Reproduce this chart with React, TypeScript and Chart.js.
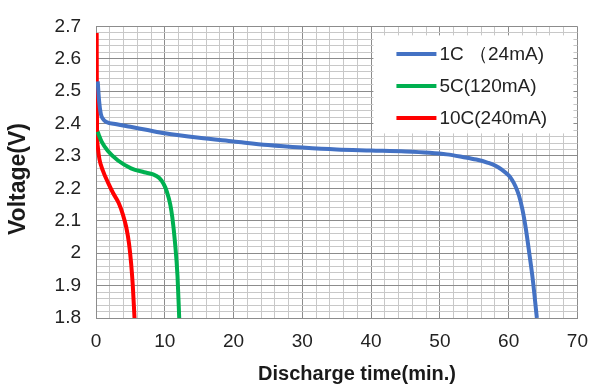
import React, { useEffect, useRef } from 'react';
import { Chart, registerables } from 'chart.js';

Chart.register(...registerables);

const seriesLabels = ['1C （24mA)', '5C(120mA)', '10C(240mA)'];
const seriesColors = ['#4472C4', '#00B050', '#FF0000'];

const blueTime = [0.25, 0.45, 0.7, 1.0, 1.5, 3, 5, 7.5, 10, 15, 20, 25, 30, 35, 40, 45, 48.5, 51, 53.3, 55.3, 57, 58.1, 59, 60, 60.5, 61.0, 61.5, 62.0, 62.5, 63.0, 63.5, 64.1];
const blueVolt = [2.53, 2.47, 2.43, 2.415, 2.405, 2.398, 2.39, 2.38, 2.37, 2.356, 2.345, 2.334, 2.326, 2.32, 2.317, 2.314, 2.31, 2.305, 2.297, 2.289, 2.279, 2.27, 2.258, 2.24, 2.226, 2.206, 2.178, 2.135, 2.075, 2.0, 1.92, 1.8];

const greenTime = [0.25, 0.5, 0.8, 1.7, 3.2, 5.1, 7.0, 8.3, 9.2, 9.8, 10.3, 10.8, 11.1, 11.5, 11.85, 12.1];
const greenVolt = [2.375, 2.36, 2.345, 2.316, 2.286, 2.262, 2.25, 2.243, 2.232, 2.215, 2.19, 2.15, 2.11, 2.03, 1.93, 1.8];

const redTime = [0.1, 0.12, 0.15, 0.25, 0.5, 1.0, 1.7, 2.5, 3.3, 3.9, 4.4, 4.8, 5.1, 5.35, 5.6];
const redVolt = [2.68, 2.5, 2.38, 2.33, 2.29, 2.255, 2.22, 2.185, 2.155, 2.12, 2.08, 2.03, 1.97, 1.9, 1.8];

const xTickLabels = ['0', '10', '20', '30', '40', '50', '60', '70'];
const yTickLabels = ['1.8', '1.9', '2', '2.1', '2.2', '2.3', '2.4', '2.5', '2.6', '2.7'];
const xTitle = 'Discharge time(min.)';
const yTitle = 'Voltage(V)';

const FONT = '"Liberation Sans", Arial, sans-serif';
const MAJOR = '#8c8c8c';
const MINOR = '#c8c8c8';

const toPoints = (xs: number[], ys: number[]) => xs.map((x, i) => ({ x, y: ys[i] }));

const isMajorX = (v: number) => Math.abs(v / 10 - Math.round(v / 10)) < 1e-6;
const isMajorY = (v: number) => {
  const k = (v - 1.8) * 10;
  return Math.abs(k - Math.round(k)) < 1e-6;
};

const overlay = {
  id: 'overlay',
  afterDatasetsDraw(chart: any) {
    const { ctx, chartArea } = chart;
    ctx.save();
    const bx = chartArea.right - 204;
    const by = chartArea.top + 9;
    ctx.fillStyle = '#ffffff';
    ctx.fillRect(bx, by, 200, 98);
    chart.data.datasets.forEach((ds: any, i: number) => {
      const y = by + 18.5 + i * 32;
      ctx.strokeStyle = ds.borderColor;
      ctx.lineWidth = 4;
      ctx.beginPath();
      ctx.moveTo(bx + 23, y);
      ctx.lineTo(bx + 63, y);
      ctx.stroke();
      ctx.fillStyle = '#222222';
      ctx.font = `19px ${FONT}`;
      ctx.textAlign = 'left';
      ctx.textBaseline = 'middle';
      ctx.fillText(ds.label, bx + 66, y + 1);
    });
    ctx.restore();

    ctx.save();
    ctx.fillStyle = '#1a1a1a';
    ctx.font = `bold 20px ${FONT}`;
    ctx.textAlign = 'center';
    ctx.textBaseline = 'alphabetic';
    ctx.fillText(xTitle, chartArea.left + 261, 380);
    ctx.translate(25, 179);
    ctx.rotate(-Math.PI / 2);
    ctx.font = `bold 23px ${FONT}`;
    ctx.fillText(yTitle, 0, 0);
    ctx.restore();
  },
};

export default function App() {
  const ref = useRef<HTMLCanvasElement>(null);
  useEffect(() => {
    if (!ref.current) return;
    const chart = new Chart(ref.current, {
      type: 'line',
      data: {
        datasets: [
          { label: seriesLabels[0], data: toPoints(blueTime, blueVolt), borderColor: seriesColors[0] },
          { label: seriesLabels[1], data: toPoints(greenTime, greenVolt), borderColor: seriesColors[1] },
          { label: seriesLabels[2], data: toPoints(redTime, redVolt), borderColor: seriesColors[2] },
        ].map((d) => ({
          ...d,
          borderWidth: 4,
          pointRadius: 0,
          fill: false,
          cubicInterpolationMode: 'monotone' as const,
        })),
      },
      options: {
        responsive: false,
        animation: false,
        devicePixelRatio: 1,
        layout: { padding: { left: 0, top: 16, right: 17.5, bottom: 0 } },
        plugins: { legend: { display: false }, tooltip: { enabled: false } },
        scales: {
          x: {
            type: 'linear',
            min: 0,
            max: 70,
            afterFit: (s: any) => { s.height = 74; },
            ticks: {
              stepSize: 2,
              autoSkip: false,
              maxRotation: 0,
              padding: 12,
              color: '#222222',
              font: { family: FONT, size: 19 },
              callback: (v: any) => (isMajorX(Number(v)) ? xTickLabels[Math.round(Number(v) / 10)] : ''),
            },
            grid: {
              drawTicks: false,
              lineWidth: 1,
              color: (c: any) => (c.tick && isMajorX(c.tick.value) ? MAJOR : MINOR),
            },
            border: { display: true, color: MAJOR },
          },
          y: {
            type: 'linear',
            min: 1.8,
            max: 2.7,
            afterFit: (s: any) => { s.width = 96; },
            ticks: {
              stepSize: 0.02,
              autoSkip: false,
              padding: 15,
              color: '#222222',
              font: { family: FONT, size: 19 },
              callback: (v: any) => (isMajorY(Number(v)) ? yTickLabels[Math.round((Number(v) - 1.8) * 10)] : ''),
            },
            grid: {
              drawTicks: false,
              lineWidth: 1,
              color: (c: any) => (c.tick && isMajorY(c.tick.value) ? MAJOR : MINOR),
            },
            border: { display: true, color: MAJOR },
          },
        },
      },
      plugins: [overlay],
    });
    return () => chart.destroy();
  }, []);
  return (
    <div style={{ position: 'absolute', left: 0, top: 0, width: 600, height: 392, background: '#fff' }}>
      <canvas ref={ref} width={600} height={392} />
    </div>
  );
}
